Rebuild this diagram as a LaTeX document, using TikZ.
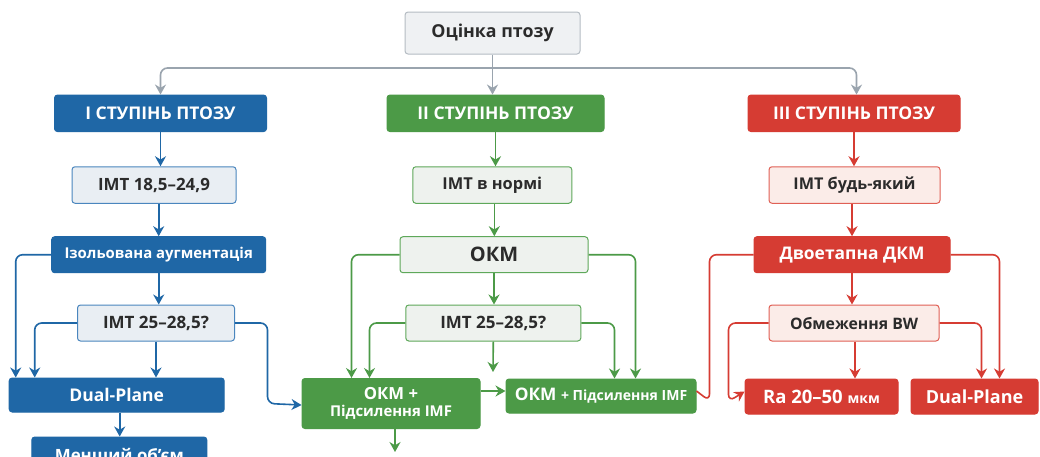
\documentclass[tikz,border=0pt]{standalone}
\usepackage{fontspec}
\setmainfont{Open Sans}
\usetikzlibrary{arrows.meta,calc}
\definecolor{cblue}{HTML}{1F67A6}
\definecolor{cbluel}{HTML}{E9EEF3}
\definecolor{cbluebd}{HTML}{4A86BE}
\definecolor{cgreen}{HTML}{4C9A47}
\definecolor{cgreenl}{HTML}{EEF2EE}
\definecolor{cgreenbd}{HTML}{5EA85A}
\definecolor{cred}{HTML}{D63C33}
\definecolor{credl}{HTML}{FBECE8}
\definecolor{credbd}{HTML}{E06055}
\definecolor{cgray}{HTML}{EFF1F3}
\definecolor{cgraybd}{HTML}{B5BCC3}
\definecolor{cgarr}{HTML}{9AA4AE}
\definecolor{ctext}{HTML}{2B2B2B}
\newcommand{\fs}[1]{\fontsize{#1}{#1}\selectfont}
\tikzset{
  box/.style={rectangle, rounded corners=3pt, align=center, inner sep=0pt, font=\bfseries\fs{16}, line width=1pt},
  dark/.style={box, fill=#1, draw=#1, text=white},
  light/.style={box, text=ctext},
  conn/.style={line width=1.6pt, rounded corners=7pt, -{Stealth[length=10pt,width=11pt]}},
  plain/.style={line width=1.6pt, rounded corners=7pt},
}
\begin{document}
\begin{tikzpicture}[x=1pt,y=-1pt]
\useasboundingbox (0,0) rectangle (1040,456);
\clip (0,0) rectangle (1040,456);
\fill[white] (0,0) rectangle (1040,456);
% top
\node[light, fill=cgray, draw=cgraybd, minimum width=175pt, minimum height=42pt, font=\bfseries\fs{17.8}] (top) at (492.5,33) {Оцінка птозу};
% headers
\node[dark=cblue, minimum width=212pt, minimum height=36.5pt, font=\bfseries\fs{17.5}] (h1) at (160.5,113.3) {І СТУПІНЬ ПТОЗУ};
\node[dark=cgreen, minimum width=217pt, minimum height=36.5pt, font=\bfseries\fs{17.5}] (h2) at (495.5,113.3) {ІІ СТУПІНЬ ПТОЗУ};
\node[dark=cred, minimum width=212pt, minimum height=36.5pt, font=\bfseries\fs{17.5}] (h3) at (854,113.3) {ІІІ СТУПІНЬ ПТОЗУ};
% IMT
\node[light, fill=cbluel, draw=cbluebd, minimum width=164pt, minimum height=36.5pt, font=\bfseries\fs{16.9}] (b1) at (154,185) {ІМТ 18,5–24,9};
\node[light, fill=cgreenl, draw=cgreenbd, minimum width=159pt, minimum height=36.5pt, font=\bfseries\fs{16.4}] (b2) at (492.3,185) {ІМТ в нормі};
\node[light, fill=credl, draw=credbd, minimum width=171pt, minimum height=36.5pt, font=\bfseries\fs{16.2}] (b3) at (854.5,185) {ІМТ будь-який};
% level 3
\node[dark=cblue, minimum width=214pt, minimum height=36pt, font=\bfseries\fs{14.9}] (c1) at (158.7,254.7) {Ізольована аугментація};
\node[light, fill=cgreenl, draw=cgreenbd, minimum width=188pt, minimum height=36pt, font=\bfseries\fs{20}] (c2) at (494,254.7) {ОКМ};
\node[dark=cred, minimum width=196pt, minimum height=36pt, font=\bfseries\fs{17.4}] (c3) at (852,254.7) {Двоетапна ДКМ};
% level 4
\node[light, fill=cbluel, draw=cbluebd, minimum width=157pt, minimum height=36pt, font=\bfseries\fs{17}] (d1) at (156,323) {ІМТ 25–28,5?};
\node[light, fill=cgreenl, draw=cgreenbd, minimum width=175pt, minimum height=36pt, font=\bfseries\fs{17}] (d2) at (493.3,323) {ІМТ 25–28,5?};
\node[light, fill=credl, draw=credbd, minimum width=170pt, minimum height=36pt, font=\bfseries\fs{15.8}] (d3) at (854,323) {Обмеження BW};
% level 5
\node[dark=cblue, minimum width=215pt, minimum height=34pt, font=\bfseries\fs{17.5}] (e1) at (116.7,395) {Dual-Plane};
\node[dark=cgreen, minimum width=178pt, minimum height=50pt, font=\bfseries\fs{16.7}] (e2) at (391,403.5) {ОКМ +\\[1pt]{\fs{14.9}Підсилення IMF}};
\node[dark=cgreen, minimum width=190pt, minimum height=34pt, font=\bfseries\fs{17.3}] (e3) at (601,396) {ОКМ {\fs{14}+ Підсилення IMF}};
\node[dark=cred, minimum width=153pt, minimum height=35pt, font=\bfseries\fs{18.5}] (e4) at (821.5,396.5) {Ra 20–50 {\fs{14}мкм}};
\node[dark=cred, minimum width=127pt, minimum height=35pt, font=\bfseries\fs{18}] (e5) at (974.5,396.5) {Dual-Plane};
% level 6
\node[dark=cblue, minimum width=175pt, minimum height=36pt, font=\bfseries\fs{16.9}] (f1) at (119.3,455) {Менший об'єм};
\coordinate (j) at (492.5,68);
\coordinate (g1) at (493,372);
\coordinate (g2) at (395,452);
% gray connectors
\draw[conn, cgarr] (top.south) -- (top.south |- h2.north);
\draw[conn, cgarr] (j) -| (h1.north);
\draw[conn, cgarr] (j) -| ([xshift=2.5]h3.north);
% blue column
\draw[conn, cblue] (h1.south) -- (h1.south |- b1.north);
\draw[conn, cblue] (c1.north |- b1.south) -- (c1.north);
\draw[conn, cblue] (c1.south) -- (c1.south |- d1.north);
\draw[conn, cblue] (d1.south) -- (d1.south |- e1.north);
\draw[conn, cblue] (c1.west) -| ([xshift=7]e1.north west);
\draw[conn, cblue] (d1.east) -| ([xshift=-34]e2.west) -- ([yshift=-1.5]e2.west);
\draw[conn, cblue] (d1.west) -| ([xshift=26]e1.north west);
\draw[conn, cblue] ([xshift=3]e1.south) -- ([xshift=3]e1.south |- f1.north);
% green column
\draw[conn, cgreen] (h2.south) -- (h2.south |- b2.north);
\draw[conn, cgreen] ([xshift=2]b2.south) -- ([xshift=2]b2.south |- c2.north);
\draw[conn, cgreen] (c2.south) -- (c2.south |- d2.north);
\draw[conn, cgreen] (d2.south) -- (g1);
\draw[conn, cgreen] (c2.west) -| ([xshift=50]e2.north west);
\draw[conn, cgreen] (d2.west) -| ([xshift=68]e2.north west);
\draw[conn, cgreen] (c2.east) -| ([xshift=-61]e3.north east);
\draw[conn, cgreen] (d2.east) -| ([xshift=-82]e3.north east);
\draw[conn, cgreen] ([yshift=5]e3.west -| e2.east) -- ([yshift=5]e3.west);
\draw[conn, cgreen] (e2.south -| g2) -- (g2);
% red column
\draw[conn, cred] (h3.south) -- (h3.south |- b3.north);
\draw[conn, cred] (c3.north |- b3.south) -- (c3.north);
\draw[conn, cred] (c3.south) -- (c3.south |- d3.north);
\draw[conn, cred] ([xshift=1]d3.south) -- ([xshift=1]d3.south |- e4.north);
\draw[plain, cred] (c3.west) -| ([shift={(13,5)}]e3.east) -- ([yshift=5]e3.east);
\draw[conn, cred] (d3.west) -| ([shift={(-16,5)}]e4.west) -- ([yshift=5]e4.west);
\draw[conn, cred] (c3.east) -| ([xshift=89]e5.north west);
\draw[conn, cred] (d3.east) -| ([xshift=71]e5.north west);
\end{tikzpicture}
\end{document}
